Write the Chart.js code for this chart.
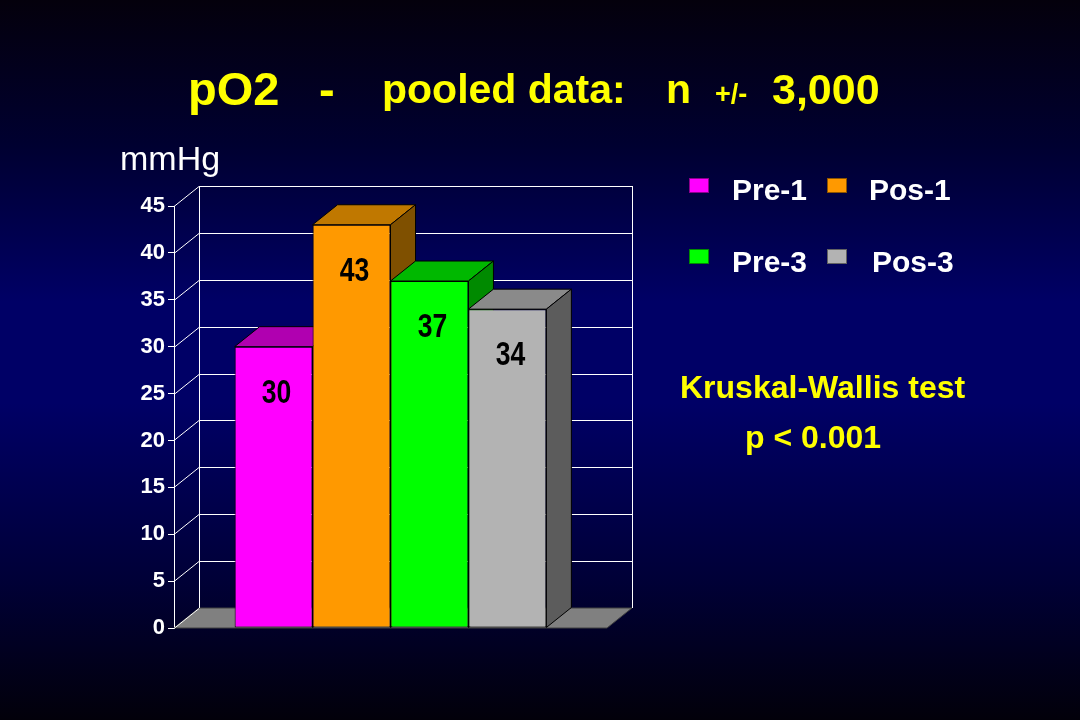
<!DOCTYPE html>
<html>
<head>
<meta charset="utf-8">
<script src="https://cdn.jsdelivr.net/npm/chart.js@4.4.1/dist/chart.umd.min.js"></script>
<style>
  html, body { margin: 0; padding: 0; background: #000; }
  #wrap {
    position: relative; width: 1080px; height: 720px; overflow: hidden;
    background: linear-gradient(to bottom, #04000c 0%, #000030 20%, #000066 42%, #000066 56%, #000038 80%, #02000a 100%);
    font-family: "Liberation Sans", Arial, sans-serif;
  }
  canvas { position: absolute; left: 0; top: 0; }
  .t { position: absolute; line-height: 1; white-space: pre; font-weight: bold; }
  .yellow { color: #ffff00; }
  .white { color: #ffffff; }
  .sq { position: absolute; width: 20px; height: 15px; box-sizing: border-box; border: 1px solid rgba(0,0,0,0.45); }
</style>
</head>
<body>
<div id="wrap">
  <canvas id="po2Chart" width="1080" height="720"></canvas>

  <!-- title -->
  <div class="t yellow" style="left:188px; top:65px; font-size:47px;">pO2</div>
  <div class="t yellow" style="left:319px; top:65px; font-size:47px;">-</div>
  <div class="t yellow" style="left:382px; top:69px; font-size:41px;">pooled data:</div>
  <div class="t yellow" style="left:666px; top:69px; font-size:41px;">n</div>
  <div class="t yellow" style="left:715px; top:81px; font-size:27px;">+/-</div>
  <div class="t yellow" style="left:772px; top:68px; font-size:43px;">3,000</div>

  <div class="t white" style="left:120px; top:141px; font-size:34px; font-weight:normal;">mmHg</div>

  <div id="legend"></div>

  <div class="t yellow" style="left:680px; top:371px; font-size:32px;">Kruskal-Wallis test</div>
  <div class="t yellow" style="left:745px; top:421px; font-size:32px;">p &lt; 0.001</div>
</div>

<script>
const categories = [""];
const seriesNames = ["Pre-1", "Pos-1", "Pre-3", "Pos-3"];
const seriesValues = [30, 43, 37, 34];
const frontColors = ["#ff00ff", "#ff9900", "#00ff00", "#b3b3b3"];
const topColors = ["#b000b0", "#c07800", "#00b800", "#8a8a8a"];
const sideColors = ["#800080", "#7f5000", "#008a00", "#5c5c5c"];
const yMin = 0;
const yMax = 45;
const yStep = 5;

// 3D depth of the box, in pixels
const DX = 25;
const DY = 20;

// legend, 2 x 2 like the slide
const legend = document.getElementById("legend");
seriesNames.forEach((name, i) => {
    const col = i % 2, row = Math.floor(i / 2);
    const sq = document.createElement("div");
    sq.className = "sq";
    sq.style.left = (689 + col * 138) + "px";
    sq.style.top = (178 + row * 71) + "px";
    sq.style.background = frontColors[i];
    legend.appendChild(sq);
    const txt = document.createElement("div");
    txt.className = "t white";
    txt.style.fontSize = "30px";
    txt.style.left = (732 + col * 137 + col * 3 * row) + "px";
    txt.style.top = (175 + row * 72) + "px";
    txt.textContent = name;
    legend.appendChild(txt);
});

function poly(ctx, pts, fill) {
    ctx.beginPath();
    ctx.moveTo(pts[0][0], pts[0][1]);
    for (let k = 1; k < pts.length; k++) ctx.lineTo(pts[k][0], pts[k][1]);
    ctx.closePath();
    ctx.fillStyle = fill;
    ctx.fill();
    ctx.stroke();
}

const box3d = {
    id: "box3d",
    beforeDatasetsDraw(chart) {
        const { ctx, chartArea: a, scales: { y } } = chart;
        const y0 = y.getPixelForValue(yMin);
        const yTop = y.getPixelForValue(yMax);
        ctx.save();

        // floor
        ctx.strokeStyle = "#404040";
        ctx.lineWidth = 1;
        poly(ctx, [[a.left, y0], [a.right, y0], [a.right + DX, y0 - DY], [a.left + DX, y0 - DY]], "#808080");

        // back wall grid and the diagonals to the front axis
        ctx.strokeStyle = "#ffffff";
        ctx.beginPath();
        y.ticks.forEach(t => {
            const py = Math.round(y.getPixelForValue(t.value)) + 0.5;
            if (t.value > yMin) {
                ctx.moveTo(a.left + DX, py - DY);
                ctx.lineTo(a.right + DX, py - DY);
            }
            ctx.moveTo(a.left, py);
            ctx.lineTo(a.left + DX, py - DY);
        });
        ctx.moveTo(Math.round(a.left + DX) + 0.5, yTop - DY);
        ctx.lineTo(Math.round(a.left + DX) + 0.5, y0 - DY);
        ctx.moveTo(Math.round(a.right + DX) + 0.5, yTop - DY);
        ctx.lineTo(Math.round(a.right + DX) + 0.5, y0 - DY);
        ctx.stroke();

        // top and side faces of the bars
        ctx.strokeStyle = "#000000";
        chart.data.datasets.forEach((ds, i) => {
            const bar = chart.getDatasetMeta(i).data[0];
            const { x, y: top, base, width } = bar.getProps(["x", "y", "base", "width"], true);
            const l = x - width / 2, r = x + width / 2;
            poly(ctx, [[l, top], [l + DX, top - DY], [r + DX, top - DY], [r, top]], topColors[i]);
            poly(ctx, [[r, top], [r + DX, top - DY], [r + DX, base - DY], [r, base]], sideColors[i]);
        });
        ctx.restore();
    },
    afterDatasetsDraw(chart) {
        const { ctx } = chart;
        ctx.save();
        ctx.fillStyle = "#000000";
        ctx.font = "bold 34px 'Liberation Sans', Arial, sans-serif";
        ctx.textAlign = "center";
        ctx.textBaseline = "alphabetic";
        chart.data.datasets.forEach((ds, i) => {
            const bar = chart.getDatasetMeta(i).data[0];
            const { x, y: top } = bar.getProps(["x", "y"], true);
            ctx.save();
            ctx.translate(x + 3, top + 56);
            ctx.scale(0.78, 1);
            ctx.fillText(String(ds.data[0]), 0, 0);
            ctx.restore();
        });
        ctx.restore();
    }
};

const ctxPo2 = document.getElementById("po2Chart").getContext("2d");
window.po2Chart = new Chart(ctxPo2, {
    type: "bar",
    data: {
        labels: categories,
        datasets: seriesNames.map((name, i) => ({
            label: name,
            data: [seriesValues[i]],
            backgroundColor: frontColors[i],
            borderColor: "#000000",
            borderWidth: 1,
            borderSkipped: false,
            categoryPercentage: 0.72,
            barPercentage: 1.0,
        })),
    },
    options: {
        responsive: false,
        animation: false,
        devicePixelRatio: 1,
        layout: { padding: { left: 0, top: 206, right: 473, bottom: 92 } },
        plugins: { legend: { display: false }, tooltip: { enabled: false }, title: { display: false } },
        scales: {
            x: { display: false },
            y: {
                min: yMin,
                max: yMax,
                ticks: {
                    stepSize: yStep,
                    color: "#ffffff",
                    padding: 3,
                    font: { family: "'Liberation Sans', Arial, sans-serif", size: 22, weight: "bold" },
                },
                grid: { drawOnChartArea: false, drawTicks: true, tickLength: 6, color: "#ffffff" },
                border: { display: true, color: "#ffffff", width: 1 },
                afterFit(scale) { scale.width = 174; },
            },
        },
    },
    plugins: [box3d],
});
</script>
</body>
</html>
